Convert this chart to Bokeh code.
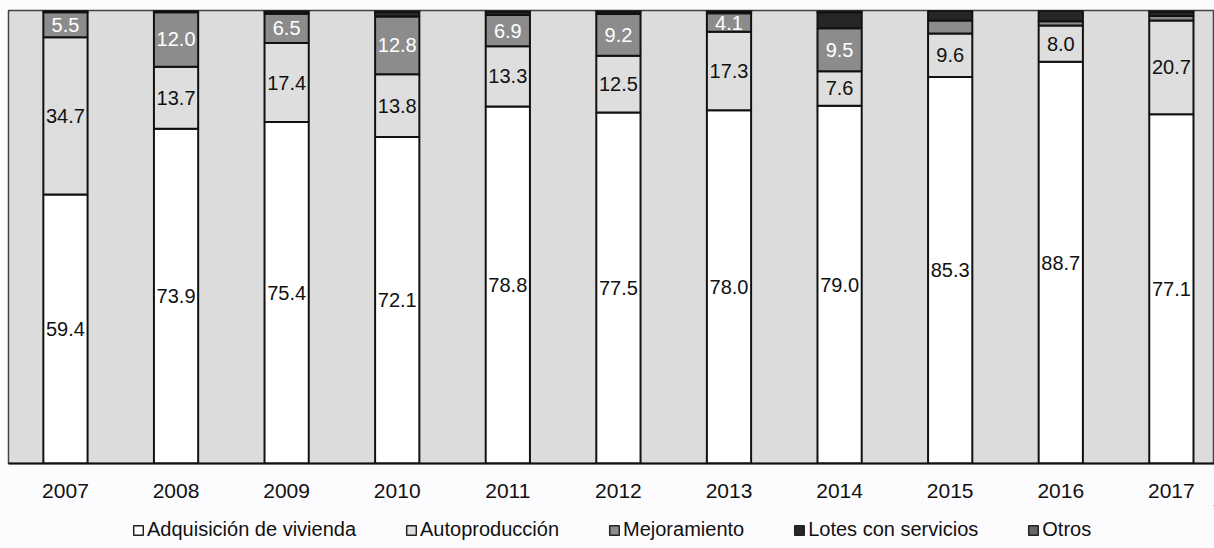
from bokeh.plotting import figure
from bokeh.models import ColumnDataSource, Range1d, Legend, LegendItem
from bokeh.layouts import column
from bokeh.core.properties import value
from bokeh.embed import file_html
from bokeh.resources import INLINE
import numpy as np

years = ["2007", "2008", "2009", "2010", "2011", "2012", "2013", "2014", "2015", "2016", "2017"]
adquisicion = [59.4, 73.9, 75.4, 72.1, 78.8, 77.5, 78.0, 79.0, 85.3, 88.7, 77.1]
autoproduccion = [34.7, 13.7, 17.4, 13.8, 13.3, 12.5, 17.3, 7.6, 9.6, 8.0, 20.7]
mejoramiento = [5.5, 12.0, 6.5, 12.8, 6.9, 9.2, 4.1, 9.5, 2.9, 0.9, 1.0]
lotes = [0.4, 0.4, 0.5, 1.0, 0.8, 0.6, 0.4, 3.5, 2.2, 2.4, 1.0]
otros = [0.0, 0.0, 0.2, 0.3, 0.2, 0.2, 0.2, 0.4, 0.0, 0.0, 0.2]
mej_labeled = [True, True, True, True, True, True, True, True, False, False, False]

series = ["Adquisición de vivienda", "Autoproducción", "Mejoramiento", "Lotes con servicios", "Otros"]
colors = ["#ffffff", "#dedede", "#8c8c8c", "#262626", "#666666"]

x = list(range(len(years)))
keys = ["adq", "auto", "mej", "lot", "otr"]
src = ColumnDataSource(dict(x=x, adq=adquisicion, auto=autoproduccion, mej=mejoramiento,
                            lot=lotes, otr=otros))

W = 1214
H_MAIN, H_LEG = 505, 43
BG = "#fcfbfd"

p = figure(width=W, height=H_MAIN, output_backend="svg", toolbar_location=None,
           x_range=Range1d(-0.515, 10.39), y_range=Range1d(0, 100),
           min_border_left=8, min_border_top=10, min_border_right=0, min_border_bottom=42)
p.background_fill_color = "#dcdcdc"
p.border_fill_color = BG
p.outline_line_color = "#444444"
p.outline_line_width = 1.5
p.grid.visible = False
p.yaxis.visible = False

renderers = p.vbar_stack(keys, x="x", width=0.40, source=src, fill_color=colors,
                         line_color="#111111", line_width=2)

ax = p.xaxis[0]
ax.ticker = x
ax.major_label_overrides = {i: y for i, y in enumerate(years)}
ax.major_tick_line_color = None
ax.minor_tick_line_color = None
ax.axis_line_color = "#111111"
ax.axis_line_width = 2
ax.major_label_text_font = "Liberation Sans"
ax.major_label_text_font_size = "21px"
ax.major_label_text_color = "#111111"
ax.major_label_standoff = 14

adq = np.array(adquisicion)
aut = np.array(autoproduccion)
mej = np.array(mejoramiento)
lab_x, lab_y, lab_t, lab_c = [], [], [], []
for i in range(len(years)):
    lab_x.append(i); lab_y.append(adq[i] / 2); lab_t.append(f"{adq[i]:.1f}"); lab_c.append("#111111")
    lab_x.append(i); lab_y.append(adq[i] + aut[i] / 2); lab_t.append(f"{aut[i]:.1f}"); lab_c.append("#111111")
    if mej_labeled[i]:
        lab_x.append(i); lab_y.append(adq[i] + aut[i] + mej[i] / 2); lab_t.append(f"{mej[i]:.1f}"); lab_c.append("#ffffff")
lsrc = ColumnDataSource(dict(x=lab_x, y=lab_y, t=lab_t, c=lab_c))
p.text(x="x", y="y", text="t", source=lsrc, text_color="c", text_align="center",
       text_baseline="middle", text_font=value("Liberation Sans"), text_font_size="20px")

# legend strip (separate figure below the chart)
p2 = figure(width=W, height=H_LEG, output_backend="svg", toolbar_location=None,
            x_range=Range1d(0, 1), y_range=Range1d(0, 1),
            min_border=0, min_border_left=0, min_border_right=0, min_border_top=0, min_border_bottom=0)
p2.axis.visible = False
p2.grid.visible = False
p2.outline_line_color = None
p2.background_fill_color = BG
p2.border_fill_color = BG
dummy = ColumnDataSource(dict(x=[5.0], top=[5.0]))  # outside the visible range
leg_items = []
for s, c in zip(series, colors):
    r = p2.vbar(x="x", top="top", bottom=4.0, width=0.1, source=dummy, fill_color=c,
                line_color="#222222", line_width=1.5)
    leg_items.append(LegendItem(label=s, renderers=[r], index=0))

legend = Legend(items=leg_items, orientation="horizontal", location=(124, 7))
legend.background_fill_alpha = 0
legend.border_line_color = None
legend.label_text_font = "Liberation Sans"
legend.label_text_font_size = "20px"
legend.label_text_color = "#111111"
legend.label_height = 20
legend.glyph_width = 12
legend.glyph_height = 12
legend.label_standoff = 3
legend.spacing = 49
legend.padding = 0
legend.margin = 0
p2.add_layout(legend, "center")

layout = column(p, p2, spacing=0)
open("out.html", "w").write(file_html(layout, INLINE))
